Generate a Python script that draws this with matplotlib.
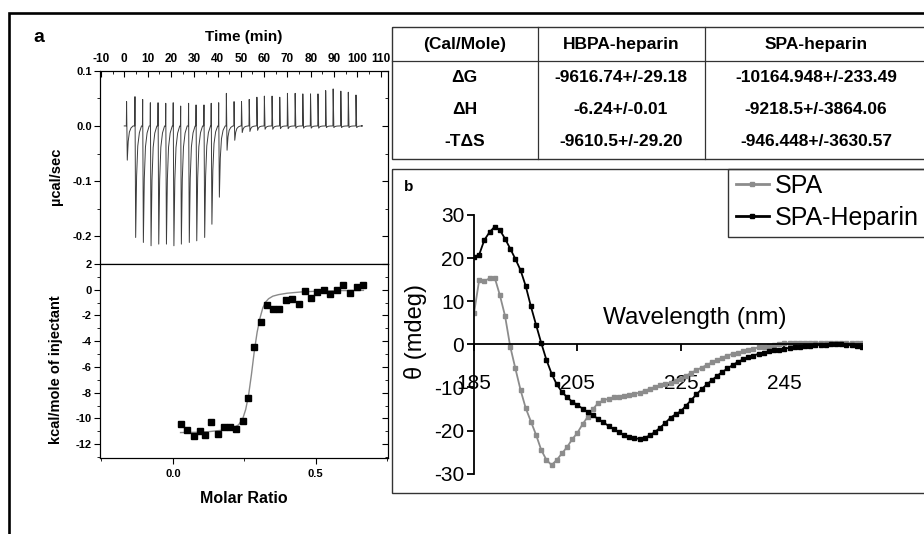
import matplotlib
matplotlib.use("Agg")
import matplotlib.pyplot as plt
from matplotlib.patches import Rectangle
from matplotlib.lines import Line2D
from matplotlib.ticker import MultipleLocator, FixedLocator

plt.rcParams['font.family'] = ['Liberation Sans', 'DejaVu Sans']
plt.rcParams['axes.unicode_minus'] = False

# ---------------- data ----------------
# (a) top: raw ITC trace, one entry per injection (min, ucal/sec)
inj_time = [1.0, 4.6, 7.9, 11.2, 14.5, 17.8, 21.0, 24.2, 27.6, 30.8, 34.2,
            37.3, 40.5, 43.8, 47.1, 50.3, 53.6, 56.9, 60.1, 63.4, 66.7, 70.0,
            73.3, 76.6, 79.9, 83.1, 86.4, 89.6, 92.9, 96.1, 99.4]
spike_up = [0.044, 0.053, 0.048, 0.042, 0.042, 0.041, 0.042, 0.036, 0.041, 0.038, 0.038,
            0.041, 0.042, 0.059, 0.044, 0.044, 0.048, 0.052, 0.054, 0.054, 0.052, 0.059,
            0.059, 0.058, 0.058, 0.058, 0.064, 0.067, 0.063, 0.061, 0.056]
spike_down = [-0.062, -0.202, -0.211, -0.217, -0.214, -0.214, -0.217, -0.214, -0.211, -0.208, -0.202,
              -0.178, -0.129, -0.044, -0.026, -0.012, -0.010, -0.008, -0.006, -0.006, -0.005, -0.005,
              -0.004, -0.004, -0.004, -0.004, -0.003, -0.003, -0.003, -0.003, -0.003]
# shape of one injection peak: minutes after injection, fraction of the down spike
peak_dt = [0.3, 0.7, 1.2, 1.9, 2.8]
peak_frac = [1.0, 0.45, 0.18, 0.06, 0.0]
trace_start, trace_end = 0.0, 101.8

# (a) bottom: integrated heats
molar_ratio = [0.027, 0.050, 0.073, 0.094, 0.114, 0.135, 0.157, 0.178, 0.199, 0.220,
               0.244, 0.263, 0.285, 0.307, 0.328, 0.349, 0.370, 0.395, 0.418, 0.440,
               0.461, 0.485, 0.506, 0.528, 0.550, 0.574, 0.597, 0.621, 0.644, 0.667]
heat = [-10.4, -10.9, -11.35, -11.0, -11.3, -10.3, -11.2, -10.7, -10.7, -10.8,
        -10.2, -8.4, -4.45, -2.5, -1.16, -1.47, -1.5, -0.83, -0.7, -1.14,
        -0.13, -0.62, -0.18, -0.05, -0.31, -0.05, 0.34, -0.23, 0.21, 0.36]
fit_ratio = [0.027, 0.08, 0.13, 0.18, 0.21, 0.23, 0.245, 0.255, 0.265, 0.275, 0.285,
             0.295, 0.305, 0.315, 0.325, 0.335, 0.35, 0.37, 0.40, 0.45, 0.50, 0.58, 0.667]
fit_heat = [-11.1, -11.08, -11.02, -10.9, -10.75, -10.5, -10.0, -9.3, -8.2, -6.6, -4.8,
            -3.3, -2.2, -1.4, -0.95, -0.7, -0.5, -0.38, -0.27, -0.17, -0.12, -0.07, -0.05]

# thermodynamic table
table_head = ['(Cal/Mole)', 'HBPA-heparin', 'SPA-heparin']
table_rows = ['ΔG', 'ΔH', '-TΔS']
hbpa_vals = ['-9616.74+/-29.18', '-6.24+/-0.01', '-9610.5+/-29.20']
spa_vals = ['-10164.948+/-233.49', '-9218.5+/-3864.06', '-946.448+/-3630.57']

# (b) CD spectra, 1 nm steps
wavelength = list(range(185, 261))
cd_spa = [7.2, 14.9, 14.7, 15.3, 15.5, 11.4, 6.6, -0.5, -5.6, -10.6,
          -14.8, -17.9, -21.0, -24.5, -26.8, -28.0, -26.8, -25.3, -23.8, -22.0,
          -20.5, -18.5, -16.8, -15.0, -13.6, -13.0, -12.6, -12.3, -12.1, -11.9,
          -11.7, -11.5, -11.2, -10.8, -10.3, -9.9, -9.5, -9.2, -8.9, -8.6,
          -8.0, -7.3, -6.6, -6.0, -5.4, -4.8, -4.2, -3.6, -3.1, -2.6,
          -2.2, -1.9, -1.6, -1.3, -1.0, -0.7, -0.5, -0.3, -0.1, 0.1,
          0.2, 0.3, 0.3, 0.4, 0.4, 0.4, 0.4, 0.4, 0.4, 0.4,
          0.4, 0.4, 0.3, 0.3, 0.3, 0.3]
cd_spa_heparin = [20.3, 20.8, 24.2, 26.0, 27.3, 26.5, 24.5, 22.2, 19.8, 17.2,
                  13.5, 8.8, 4.5, 0.3, -3.6, -6.8, -9.3, -11.0, -12.3, -13.3,
                  -14.1, -14.9, -15.7, -16.5, -17.3, -18.1, -18.9, -19.7, -20.4, -21.0,
                  -21.5, -21.8, -21.9, -21.7, -21.1, -20.3, -19.3, -18.2, -17.0, -16.2,
                  -15.5, -14.2, -12.9, -11.6, -10.4, -9.3, -8.3, -7.3, -6.4, -5.6,
                  -4.8, -4.1, -3.5, -3.0, -2.6, -2.2, -1.9, -1.6, -1.4, -1.2,
                  -1.0, -0.8, -0.7, -0.5, -0.4, -0.3, -0.2, -0.1, -0.1, 0.0,
                  0.0, 0.0, -0.1, -0.2, -0.4, -0.6]

# ---------------- figure ----------------
W, H = 924, 534
fig = plt.figure(figsize=(W / 100, H / 100), dpi=100)


def box(l, t, r, b):
    # pixel box -> figure fraction
    return [l / W, 1 - b / H, (r - l) / W, (b - t) / H]


over = fig.add_axes([0, 0, 1, 1])
over.set_xlim(0, W)
over.set_ylim(H, 0)
over.axis('off')

# outer frame (cut by the picture on right and bottom)
over.plot([8.5, 8.5, W + 10], [H + 10, 12.5, 12.5], color='black', lw=1.9,
          solid_joinstyle='miter', clip_on=False)
over.text(39, 38, 'a', fontsize=14, fontweight='bold', ha='center', va='center')

# table
tl, tt, tr, tb = 391.7, 27.3, 930, 159.3
over.add_patch(Rectangle((tl, tt), tr - tl, tb - tt, fill=False, ec='#333333', lw=1.0))
over.plot([tl, tr], [60.7, 60.7], color='#333333', lw=0.9)
col_x = [537.7, 705]
for cx in col_x:
    over.plot([cx, cx], [tt, tb], color='#333333', lw=0.9)
col_c = [464.5, 621, 816]
tfs = 12.5
over.text(col_c[0], 44, table_head[0], fontsize=tfs, fontweight='bold', ha='center', va='center')
over.text(col_c[1], 44, table_head[1], fontsize=tfs, fontweight='bold', ha='center', va='center')
over.text(col_c[2], 44, table_head[2], fontsize=tfs, fontweight='bold', ha='center', va='center')
row_y = [77, 109, 141]
for i in range(3):
    over.text(col_c[0], row_y[i], table_rows[i], fontsize=tfs, fontweight='bold', ha='center', va='center')
    over.text(col_c[1], row_y[i], hbpa_vals[i], fontsize=tfs, fontweight='bold', ha='center', va='center')
    over.text(col_c[2], row_y[i], spa_vals[i], fontsize=tfs, fontweight='bold', ha='center', va='center')

# CD panel box and legend box
over.add_patch(Rectangle((391.7, 169), 540, 324, fill=False, ec='#333333', lw=1.0))
over.add_patch(Rectangle((728, 169), 200, 68, fill=False, ec='#333333', lw=1.0))
over.text(409, 187, 'b', fontsize=11, fontweight='bold', ha='center', va='center')

# ---- (a) raw heat trace ----
trace_t = [trace_start]
trace_y = [0.0]
for t0, up, dn in zip(inj_time, spike_up, spike_down):
    trace_t += [t0 - 0.1, t0]
    trace_y += [0.0, up]
    for dt, fr in zip(peak_dt, peak_frac):
        trace_t.append(t0 + dt)
        trace_y.append(dn * fr)
trace_t.append(trace_end)
trace_y.append(0.0)

ax1 = fig.add_axes(box(100, 70.7, 387.7, 264))
ax1.plot(trace_t, trace_y, color='#3c3c3c', lw=0.7)
ax1.set_xlim(-10.4, 113)
ax1.set_ylim(-0.25, 0.1)
ax1.xaxis.tick_top()
ax1.xaxis.set_label_position('top')
ax1.set_xlabel('Time (min)', fontsize=11, fontweight='bold', labelpad=9)
ax1.xaxis.set_major_locator(MultipleLocator(10))
ax1.xaxis.set_minor_locator(MultipleLocator(5))
ax1.yaxis.set_major_locator(MultipleLocator(0.1))
ax1.yaxis.set_minor_locator(MultipleLocator(0.05))
ax1.tick_params(axis='x', which='both', direction='in', top=True, bottom=False,
                labelsize=8.5, pad=4)
ax1.tick_params(axis='y', which='both', direction='out', labelsize=8, pad=2)
ax1.tick_params(which='major', length=4)
ax1.tick_params(which='minor', length=2.5)
ax1.set_ylabel('µcal/sec', fontsize=10.5, fontweight='bold')
ax1.yaxis.set_label_coords(-0.13, 0.455)
for lab in ax1.get_xticklabels() + ax1.get_yticklabels():
    lab.set_fontweight('bold')
ax1r = ax1.twinx()
ax1r.set_ylim(-0.25, 0.1)
ax1r.yaxis.set_major_locator(MultipleLocator(0.1))
ax1r.yaxis.set_minor_locator(MultipleLocator(0.05))
ax1r.tick_params(which='both', direction='in', labelright=False)
ax1r.tick_params(which='major', length=4)
ax1r.tick_params(which='minor', length=2.5)

# ---- (a) binding isotherm ----
ax2 = fig.add_axes(box(100, 264, 387.7, 458.3))
ax2.plot(fit_ratio, fit_heat, color='#8a8a8a', lw=1.0)
ax2.plot(molar_ratio, heat, 's', color='black', ms=4.5)
ax2.set_xlim(-0.255, 0.752)
ax2.set_ylim(-13.1, 2)
ax2.xaxis.set_major_locator(MultipleLocator(0.5))
ax2.xaxis.set_minor_locator(MultipleLocator(0.25))
ax2.yaxis.set_major_locator(MultipleLocator(2))
ax2.yaxis.set_minor_locator(MultipleLocator(1))
ax2.tick_params(which='both', direction='out', labelsize=8, pad=2)
ax2.tick_params(which='major', length=4)
ax2.tick_params(which='minor', length=2.5)
ax2.tick_params(axis='x', pad=4)
ax2.set_xlabel('Molar Ratio', fontsize=11.5, fontweight='bold', labelpad=8)
ax2.set_ylabel('kcal/mole of injectant', fontsize=10.5, fontweight='bold')
ax2.yaxis.set_label_coords(-0.13, 0.455)
for lab in ax2.get_xticklabels() + ax2.get_yticklabels():
    lab.set_fontweight('bold')
ax2r = ax2.twinx()
ax2r.set_ylim(-13.1, 2)
ax2r.yaxis.set_major_locator(MultipleLocator(2))
ax2r.yaxis.set_minor_locator(MultipleLocator(1))
ax2r.tick_params(which='both', direction='in', labelright=False)
ax2r.tick_params(which='major', length=4)
ax2r.tick_params(which='minor', length=2.5)

# ---- (b) CD spectra ----
ax3 = fig.add_axes(box(474, 215, 862, 473.7))
ax3.patch.set_alpha(0)
ax3.plot(wavelength, cd_spa, color='#8c8c8c', marker='s', ms=3.3, lw=1.3)
ax3.plot(wavelength, cd_spa_heparin, color='black', marker='s', ms=3.3, lw=1.3)
ax3.set_xlim(185, 260)
ax3.set_ylim(-30, 30)
for s in ['top', 'right']:
    ax3.spines[s].set_visible(False)
ax3.spines['bottom'].set_position(('data', 0))
ax3.spines['bottom'].set_linewidth(1.3)
ax3.spines['left'].set_linewidth(1.3)
ax3.xaxis.set_major_locator(FixedLocator([185, 205, 225, 245]))
ax3.yaxis.set_major_locator(MultipleLocator(10))
ax3.tick_params(axis='x', direction='out', length=5, width=1.3, labelsize=15, pad=16)
ax3.tick_params(axis='y', direction='out', length=5, width=1.3, labelsize=15, pad=2)
ax3.set_ylabel('θ (mdeg)', fontsize=17)
ax3.yaxis.set_label_coords(-0.12, 0.55)
ax3.text(227.6, 6.2, 'Wavelength (nm)', fontsize=17.5, ha='center', va='center')

handles = [Line2D([], [], color='#8c8c8c', marker='s', ms=3.3, lw=2),
           Line2D([], [], color='black', marker='s', ms=3.3, lw=2)]
ax3.legend(handles, ['SPA', 'SPA-Heparin'], loc='upper left',
           bbox_to_anchor=(736 / W, 1 - 174 / H), bbox_transform=fig.transFigure,
           frameon=False, fontsize=18, handlelength=1.3, handletextpad=0.25,
           labelspacing=0.3, borderpad=0.0, borderaxespad=0)

fig.savefig('out.png', dpi=100)
